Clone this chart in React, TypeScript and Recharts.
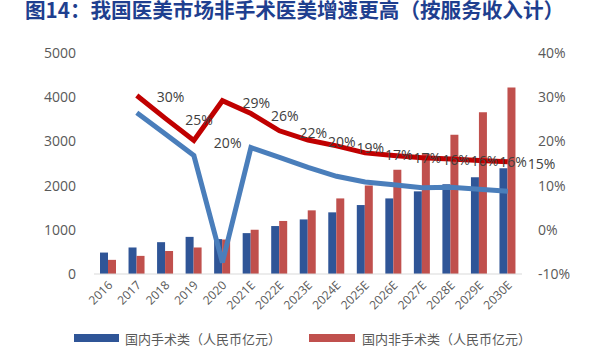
import { ComposedChart, Bar, Line, XAxis, YAxis, LabelList } from 'recharts';

const years = ['2016', '2017', '2018', '2019', '2020', '2021E', '2022E', '2023E', '2024E', '2025E', '2026E', '2027E', '2028E', '2029E', '2030E'];
const surgical = [485, 600, 720, 840, 790, 925, 1085, 1235, 1395, 1560, 1710, 1870, 2030, 2190, 2390];
const nonSurgical = [320, 410, 520, 600, 780, 1000, 1200, 1440, 1710, 2000, 2360, 2720, 3150, 3660, 4220];
const surgicalGrowth = [null, 26.5, 21.7, 16.8, -7.4, 18.6, 16.4, 14.1, 12.1, 10.8, 10.2, 9.5, 9.6, 9.2, 8.7];
const nonSurgicalGrowth = [null, 30.4, 25.2, 20.2, 29.2, 26.3, 22.4, 20.3, 19.0, 17.4, 16.8, 16.3, 16.0, 15.7, 15.4];

const leftTicks = [0, 1000, 2000, 3000, 4000, 5000];
const rightTicks = [-10, 0, 10, 20, 30, 40];

const data = years.map((year, i) => ({
  year,
  surgical: surgical[i],
  nonSurgical: nonSurgical[i],
  surgicalGrowth: surgicalGrowth[i],
  nonSurgicalGrowth: nonSurgicalGrowth[i],
}));

const FONT = '"Open Sans", "Noto Sans CJK SC", sans-serif';
const CJK = '"Noto Sans CJK SC", sans-serif';

function YearTick({ x, y, payload }: any) {
  const tx = x + 5;
  const ty = y + 4;
  return (
    <text x={tx} y={ty} textAnchor="end" fontSize={12} fill="#595959" fontFamily={FONT} transform={`rotate(-45 ${tx} ${ty})`}>
      {payload.value}
    </text>
  );
}

function GrowthLabel({ x, y, value }: any) {
  if (value == null) return null;
  return (
    <text x={x + 20} y={y + 7} fontSize={14} fill="#404040" fontFamily={FONT}>
      {Math.round(value)}%
    </text>
  );
}

export default function App() {
  return (
    <div style={{ position: 'fixed', left: 0, top: 0, width: 593, height: 359, overflow: 'hidden', background: '#fff' }}>
      <div style={{ position: 'absolute', left: 25, top: -3, lineHeight: '24px', fontFamily: CJK, fontWeight: 700, fontSize: 20.6, color: '#1F3F8F', whiteSpace: 'nowrap' }}>
        图14：我国医美市场非手术医美增速更高（按服务收入计）
      </div>
      <div style={{ position: 'absolute', left: 0, top: 0 }}>
        <ComposedChart width={593} height={359} data={data} margin={{ top: 53, right: 0, bottom: 45, left: 0 }} barGap={0}>
          <XAxis dataKey="year" tick={<YearTick />} tickLine={false} axisLine={{ stroke: '#D9D9D9' }} interval={0} height={40} />
          <YAxis
            yAxisId="left"
            orientation="left"
            width={94}
            domain={[0, 5000]}
            ticks={leftTicks}
            tickLine={false}
            axisLine={false}
            tickMargin={12}
            tick={{ fontSize: 14, fill: '#595959', fontFamily: FONT }}
          />
          <YAxis
            yAxisId="right"
            orientation="right"
            width={71}
            domain={[-10, 40]}
            ticks={rightTicks}
            tickLine={false}
            axisLine={false}
            tickMargin={10}
            tickFormatter={(v: number) => `${v}%`}
            tick={{ fontSize: 14, fill: '#595959', fontFamily: FONT }}
          />
          <Bar yAxisId="left" dataKey="surgical" fill="#2F5597" barSize={8} isAnimationActive={false} />
          <Bar yAxisId="left" dataKey="nonSurgical" fill="#C0504D" barSize={8} isAnimationActive={false} />
          <Line yAxisId="right" dataKey="surgicalGrowth" stroke="#4A7EBB" strokeWidth={5} dot={false} type="linear" isAnimationActive={false} />
          <Line yAxisId="right" dataKey="nonSurgicalGrowth" stroke="#C00000" strokeWidth={5} dot={false} type="linear" isAnimationActive={false}>
            <LabelList dataKey="nonSurgicalGrowth" content={<GrowthLabel />} />
          </Line>
        </ComposedChart>
      </div>
      <div style={{ position: 'absolute', left: 74, top: 329, fontFamily: CJK, fontSize: 13, color: '#595959', whiteSpace: 'nowrap' }}>
        <div style={{ display: 'flex', alignItems: 'center', height: 18 }}>
          <span style={{ display: 'inline-block', width: 45, height: 8, background: '#2F5597', marginRight: 6 }} />
          <span style={{ width: 184 }}>国内手术类（人民币亿元）</span>
          <span style={{ display: 'inline-block', width: 46, height: 8, background: '#C0504D', marginRight: 7 }} />
          <span>国内非手术类（人民币亿元）</span>
        </div>
        <div style={{ display: 'flex', alignItems: 'center', height: 18, marginTop: 10 }}>
          <span style={{ display: 'inline-block', width: 45, height: 3, background: '#4A7EBB', marginRight: 6 }} />
          <span style={{ width: 184 }}>国内手术类增速</span>
          <span style={{ display: 'inline-block', width: 46, height: 3, background: '#C00000', marginRight: 7 }} />
          <span>国内非手术类增速</span>
        </div>
      </div>
    </div>
  );
}
